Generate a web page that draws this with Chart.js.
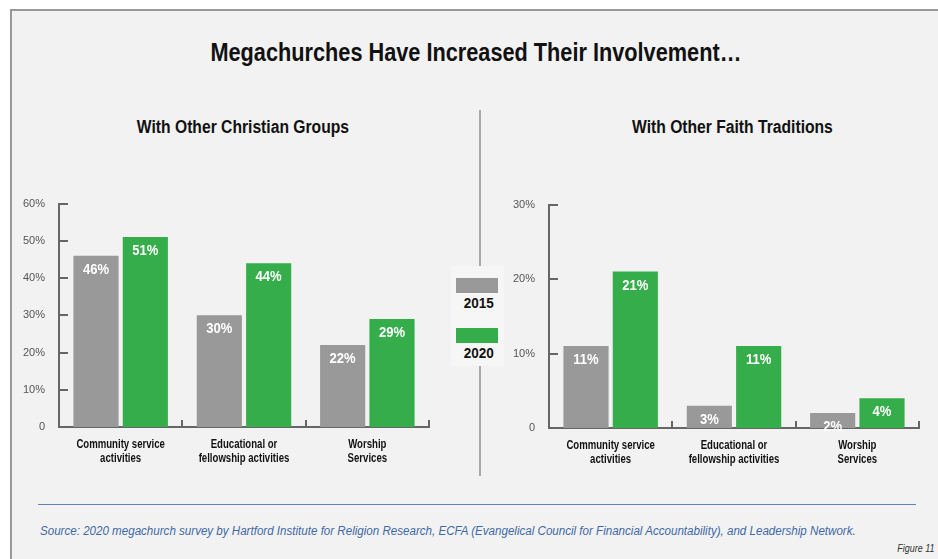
<!DOCTYPE html>
<html>
<head>
<meta charset="utf-8">
<script src="https://cdn.jsdelivr.net/npm/chart.js@4.4.1/dist/chart.umd.min.js"></script>
<style>
  html, body { margin: 0; padding: 0; background: #fff; }
  body { width: 938px; height: 559px; position: relative; overflow: hidden;
         font-family: "Liberation Sans", Arial, sans-serif; }
  #panel { position: absolute; left: 10px; top: 9px; width: 940px; height: 560px;
           background: #f1f2f1; border-left: 2px solid #999; border-top: 2px solid #999; }
  .abs { position: absolute; }
  .narrow { display: inline-block; white-space: nowrap; }
  #title { left: 0; width: 952px; top: 37px; text-align: center; font-weight: bold; font-size: 26px; color: #111; }
  #title .narrow { transform: scaleX(0.835); }
  .sub { top: 117px; width: 430px; text-align: center; font-weight: bold; font-size: 18px; color: #111; }
  .sub .narrow { transform: scaleX(0.87); }
  #divider1 { left: 479px; top: 110px; width: 2px; height: 156px; background: #aaa; }
  #divider2 { left: 479px; top: 366px; width: 2px; height: 110px; background: #aaa; }
  #legendBox { left: 451px; top: 266px; width: 53px; height: 100px; background: #f5f6f5; }
  .swatch { left: 456px; width: 42px; height: 15px; }
  .lgText { left: 452px; width: 53px; text-align: center; font-weight: bold; font-size: 15px; color: #111; }
  .lgText .narrow { transform: scaleX(0.9); }
  .wrap { position: absolute; }
  #rule { left: 38px; top: 504px; width: 878px; height: 1px; background: #5f83b8; }
  #source { left: 40px; top: 524px; font-style: italic; font-size: 12px; color: #3f68a6; white-space: nowrap;
            transform: scaleX(0.965); transform-origin: left center; }
  #fig { right: 3px; top: 543px; font-style: italic; font-size: 10px; color: #333;
         transform: scaleX(0.9); transform-origin: right center; }
</style>
</head>
<body>
<div id="panel"></div>
<div class="abs" id="title"><span class="narrow">Megachurches Have Increased Their Involvement…</span></div>
<div class="abs sub" style="left:28px"><span class="narrow">With Other Christian Groups</span></div>
<div class="abs sub" style="left:517px"><span class="narrow">With Other Faith Traditions</span></div>

<div class="abs" id="divider1"></div>
<div class="abs" id="divider2"></div>
<div class="abs" id="legendBox"></div>
<div class="abs swatch" id="sw1" style="top:278px"></div>
<div class="abs lgText" style="top:294px"><span class="narrow" id="lg1"></span></div>
<div class="abs swatch" id="sw2" style="top:328px"></div>
<div class="abs lgText" style="top:344px"><span class="narrow" id="lg2"></span></div>

<div class="wrap" style="left:10px; top:191px; width:430px; height:279px;"><canvas id="chartLeft"></canvas></div>
<div class="wrap" style="left:500px; top:192px; width:430px; height:279px;"><canvas id="chartRight"></canvas></div>

<div class="abs" id="rule"></div>
<div class="abs" id="source">Source: 2020 megachurch survey by Hartford Institute for Religion Research, ECFA (Evangelical Council for Financial Accountability), and Leadership Network.</div>
<div class="abs" id="fig">Figure 11</div>

<script>
// categories and series
var categories = [['Community service', 'activities'], ['Educational or', 'fellowship activities'], ['Worship', 'Services']];
var years = ['2015', '2020'];
var christian2015 = [46, 30, 22];
var christian2020 = [51, 44, 29];
var faith2015 = [11, 3, 2];
var faith2020 = [21, 11, 4];
var christianTicks = [0, 10, 20, 30, 40, 50, 60];
var faithTicks = [0, 10, 20, 30];

var GRAY = '#999999';
var GREEN = '#35ad4b';
var AXIS = '#666666';
var FONT = '"Liberation Sans", Arial, sans-serif';

document.getElementById('sw1').style.background = GRAY;
document.getElementById('sw2').style.background = GREEN;
document.getElementById('lg1').textContent = years[0];
document.getElementById('lg2').textContent = years[1];

// text squeezed horizontally, to get a condensed look from a regular face
function narrowText(ctx, text, x, y, sx) {
  ctx.save();
  ctx.translate(x, y);
  ctx.scale(sx, 1);
  ctx.fillText(text, 0, 0);
  ctx.restore();
}

// inward ticks on the y axis, upward ticks at category edges,
// category names under the axis and value labels in the bars
var decorations = {
  id: 'decorations',
  afterDatasetsDraw: function(chart) {
    var ctx = chart.ctx;
    var area = chart.chartArea;
    var y = chart.scales.y;
    var x = chart.scales.x;
    ctx.save();
    ctx.strokeStyle = AXIS;
    ctx.lineWidth = 2;
    y.ticks.forEach(function(t) {
      var py = Math.round(y.getPixelForValue(t.value));
      ctx.beginPath();
      ctx.moveTo(area.left, py);
      ctx.lineTo(area.left + 9, py);
      ctx.stroke();
    });
    var n = x.ticks.length;
    var step = (area.right - area.left) / n;
    for (var i = 1; i <= n; i++) {
      var px = Math.round(area.left + step * i);
      ctx.beginPath();
      ctx.moveTo(px, area.bottom);
      ctx.lineTo(px, area.bottom - 7);
      ctx.stroke();
    }

    ctx.textAlign = 'center';
    ctx.textBaseline = 'middle';
    ctx.fillStyle = '#111';
    ctx.font = 'bold 12px ' + FONT;
    chart.data.labels.forEach(function(lines, i) {
      var cx = x.getPixelForTick(i);
      lines.forEach(function(line, li) {
        narrowText(ctx, line, cx, area.bottom + 18 + li * 14, 0.8);
      });
    });

    ctx.fillStyle = '#ffffff';
    ctx.font = 'bold 15px ' + FONT;
    chart.data.datasets.forEach(function(ds, di) {
      chart.getDatasetMeta(di).data.forEach(function(bar, bi) {
        narrowText(ctx, ds.data[bi] + '%', bar.x, bar.y + 14, 0.87);
      });
    });
    ctx.restore();
  }
};

function makeChart(id, d2015, d2020, ticks) {
  var maxVal = ticks[ticks.length - 1];
  return new Chart(document.getElementById(id), {
    type: 'bar',
    data: {
      labels: categories,
      datasets: [
        { label: years[0], data: d2015, backgroundColor: GRAY, categoryPercentage: 0.8, barPercentage: 0.915 },
        { label: years[1], data: d2020, backgroundColor: GREEN, categoryPercentage: 0.8, barPercentage: 0.915 }
      ]
    },
    options: {
      responsive: true,
      maintainAspectRatio: false,
      animation: false,
      layout: { padding: { top: 9, right: 11, bottom: 3, left: 0 } },
      plugins: { legend: { display: false }, tooltip: { enabled: false } },
      scales: {
        x: {
          grid: { display: false },
          border: { display: true, color: AXIS, width: 2 },
          ticks: { display: false },
          afterFit: function(s) { s.height = 40; }
        },
        y: {
          min: 0, max: maxVal,
          afterBuildTicks: function(s) { s.ticks = ticks.map(function(v) { return { value: v }; }); },
          grid: { display: false },
          border: { display: true, color: AXIS, width: 2 },
          ticks: {
            color: '#555', font: { family: FONT, size: 11 }, padding: 6,
            callback: function(v) { return v === 0 ? '0' : v + '%'; }
          },
          afterFit: function(s) { s.width = 49; }
        }
      }
    },
    plugins: [decorations]
  });
}

makeChart('chartLeft', christian2015, christian2020, christianTicks);
makeChart('chartRight', faith2015, faith2020, faithTicks);
</script>
</body>
</html>
